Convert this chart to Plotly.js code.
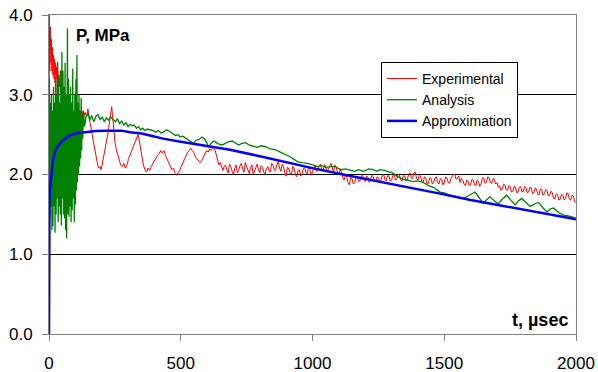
<!DOCTYPE html>
<html>
<head>
<meta charset="utf-8">
<script src="https://cdn.plot.ly/plotly-3.0.1.min.js"></script>
<style>html,body{margin:0;padding:0;background:#fff}#chart{width:598px;height:372px}</style>
</head>
<body>
<div id="chart"></div>
<script>
// Experimental (red)
var expT = [0,1,3,5,7,9,11,13,15,17,19,21,23,25,27,29,31,33,35,37,40,43,46,49,52,55,58,61,64,67,70,73,76,79,82,85,87,90,93,96,100,104,108,112,116,120,125,130,137,143,148,153,158,163,168,173,178,183,188,193,198,203,208,213,218,223,228,233,238,242,246,250,255,260,266,272,278,284,290,296,302,308,314,320,326,332,338,343,348,353,358,364,370,376,382,388,394,400,406,412,418,424,430,436,442,448,454,460,466,472,478,484,490,496,502,508,514,520,526,532,538,544,550,556,562,568,574,580,586,592,598,604,610,616,622,628,634,640,645,
650,655,660,665,670,675,680,685,690,695,700,705,710,715,720,725,730,735,740,745,750,755,760,765,770,775,780,785,790,795,800,805,810,815,820,825,830,835,840,845,850,855,860,865,870,875,880,885,890,895,900,905,910,915,920,925,930,935,940,945,950,955,960,965,970,975,980,985,990,995,
1000,1005,1010,1015,1020,1025,1030,1035,1040,1045,1050,1055,1060,1065,1070,1075,1080,1085,1090,1095,1100,1105,1110,1115,1120,1125,1130,1135,1140,1145,1150,1155,1160,1165,1170,1175,1180,1185,1190,1195,1200,1205,1210,1215,1220,1225,1230,1235,1240,1245,1250,1255,1260,1265,1270,1275,1280,1285,1290,1295,1300,1305,1310,1315,1320,1325,1330,1335,1340,1345,1350,1355,1360,1365,1370,1375,1380,1385,1390,1395,1400,1405,1410,1415,1420,1425,1430,1435,1440,1445,1450,1455,1460,1465,1470,1475,1480,1485,1490,1495,
1500,1505,1510,1515,1520,1525,1530,1535,1540,1545,1550,1555,1560,1565,1570,1575,1580,1585,1590,1595,1600,1605,1610,1615,1620,1625,1630,1635,1640,1645,1650,1655,1660,1665,1670,1675,1680,1685,1690,1695,1700,1705,1710,1715,1720,1725,1730,1735,1740,1745,1750,1755,1760,1765,1770,1775,1780,1785,1790,1795,1800,1805,1810,1815,1820,1825,1830,1835,1840,1845,1850,1855,1860,1865,1870,1875,1880,1885,1890,1895,1900,1905,1910,1915,1920,1925,1930,1935,1940,1945,1950,1955,1960,1965,1970,1975,1980,1985,1990,1995,2000];
var expP = [0,4.0,3.3,3.85,3.4,3.7,3.3,3.6,3.25,3.5,3.2,3.45,3.15,3.4,3.2,3.35,3.0,3.3,2.95,3.25,3.1,3.3,3.0,3.2,2.9,3.05,2.7,2.95,2.5,2.85,2.4,2.7,2.2,2.6,2.0,2.4,1.85,2.3,2.55,2.3,2.6,2.45,2.7,2.6,2.8,2.65,2.8,2.7,2.78,2.72,2.82,2.7,2.6,2.5,2.4,2.3,2.22,2.15,2.08,2.1,2.06,2.15,2.2,2.3,2.4,2.5,2.62,2.72,2.85,2.7,2.55,2.42,2.32,2.25,2.18,2.12,2.1,2.14,2.08,2.12,2.2,2.25,2.3,2.33,2.38,2.44,2.5,2.42,2.3,2.2,2.12,2.06,2.03,2.08,2.05,2.1,2.14,2.18,2.2,2.24,2.26,2.3,2.27,2.3,2.24,2.2,2.15,2.1,2.06,2.08,2.02,1.99,2.02,2.05,2.1,2.15,2.2,2.24,2.28,2.3,2.33,2.3,2.27,2.22,2.2,2.18,2.15,2.18,2.22,2.27,2.3,2.28,2.32,2.3,2.35,2.33,2.25,2.18,2.12,
2.15,2.08,2.05,2.1,2.12,2.06,2.02,2.13,2.1,2.04,2.0,2.08,2.12,2.02,2.05,2.11,2.14,2.07,2.03,2.15,2.1,2.04,2.01,2.09,2.12,2.0,2.04,2.1,2.13,2.06,2.02,2.11,2.09,2.03,2.0,2.07,2.1,2.05,2.03,2.14,2.12,2.05,2.06,2.12,2.16,2.08,2.04,2.13,2.1,2.02,1.98,2.09,2.07,2.01,2.0,2.1,2.08,2.0,1.97,2.05,2.06,1.98,2.0,2.07,2.09,2.02,2.01,2.1,2.07,1.99,
2.03,2.09,2.12,2.04,2.05,2.1,2.13,2.06,2.04,2.12,2.11,2.03,2.06,2.1,2.14,2.07,2.03,2.12,2.1,2.02,2.0,2.06,2.03,1.96,1.93,2.0,1.97,1.9,1.87,1.96,1.95,1.88,1.9,1.97,1.98,1.91,1.92,1.98,1.99,1.93,1.91,1.98,1.97,1.9,1.92,1.99,1.98,1.92,1.91,1.97,1.96,1.9,1.93,1.99,2.0,1.94,1.92,1.99,1.98,1.92,1.93,1.99,2.0,1.93,1.94,2.0,1.99,1.93,1.92,1.99,1.98,1.92,1.94,2.0,2.02,1.96,1.95,2.02,2.03,1.95,1.93,1.99,1.98,1.91,1.9,1.97,1.96,1.88,1.89,1.96,1.95,1.88,1.9,1.96,1.97,1.9,1.88,1.95,1.94,1.87,
1.9,1.97,1.96,1.9,1.89,1.95,1.97,2.0,2.0,1.94,1.95,1.98,1.9,1.95,1.93,1.88,1.86,1.93,1.92,1.86,1.87,1.94,1.93,1.87,1.86,1.93,1.91,1.85,1.88,1.96,1.95,1.89,1.9,1.97,1.96,1.9,1.89,1.95,1.94,1.88,1.9,1.84,1.86,1.8,1.82,1.88,1.87,1.81,1.8,1.86,1.85,1.78,1.79,1.85,1.84,1.77,1.78,1.84,1.85,1.78,1.79,1.85,1.84,1.77,1.78,1.84,1.83,1.76,1.77,1.83,1.82,1.75,1.75,1.82,1.81,1.74,1.76,1.81,1.8,1.73,1.74,1.79,1.77,1.7,1.7,1.76,1.75,1.68,1.69,1.75,1.74,1.68,1.7,1.77,1.76,1.69,1.68,1.74,1.73,1.66,1.65];

// Analysis (green)
var anaT = [0,1.5,3,5,7,9,11,13,15,17,19,21,23,25,27,29,31,33,35,37,39,41,43,45,47,49,51,53,55,57,59,61,63,65,67,70,72,74,76,78,80,82,84,86,88,90,92,94,96,98,100,102,104,106,108,110,112,114,116,118,120,122,124,126,128,131,135,
140,148,155,162,170,178,186,194,202,210,218,226,234,244,252,260,268,276,284,292,300,308,316,324,332,340,348,356,364,372,383,395,405,415,425,434,446,459,470,480,490,497,508,520,530,540,548,558,570,580,590,598,606,615,625,635,645,657,668,680,695,708,720,732,745,760,775,790,805,822,840,860,872,885,900,917,930,943,960,981,1000,1019,1035,1050,1070,1085,1096,1110,1125,1146,1160,1175,1193,1214,1230,1245,1256,1277,1290,
1300,1310,1320,1332,1345,1360,1382,1400,1420,1440,1460,1471,1484,1500,1522,1540,1560,1572,1590,1605,1617,1630,1648,1660,1673,1690,1705,1720,1737,1755,1769,1782,1794,1810,1826,1842,1858,1875,1890,1903,1915,1935,1953,1970,1985,2000];
var anaP = [1.7,3.2,1.45,2.9,1.6,3.0,1.3,2.8,1.35,3.1,1.6,2.9,1.27,3.2,1.5,3.0,1.7,3.41,1.4,3.2,1.6,2.9,1.5,3.3,1.36,3.54,1.7,3.3,1.5,3.1,1.45,3.4,1.3,3.0,1.2,3.83,1.5,3.2,1.47,3.0,1.6,3.1,1.4,2.9,1.55,3.33,1.7,2.8,1.4,3.0,1.62,3.2,1.8,3.5,1.9,2.9,2.0,3.0,2.1,2.8,2.2,2.96,2.3,2.75,2.45,2.8,2.6,
2.72,2.77,2.68,2.74,2.66,2.73,2.75,2.69,2.72,2.66,2.71,2.68,2.72,2.69,2.66,2.7,2.64,2.67,2.62,2.65,2.6,2.63,2.61,2.62,2.58,2.6,2.56,2.58,2.55,2.57,2.56,2.55,2.53,2.55,2.52,2.53,2.56,2.54,2.51,2.49,2.5,2.47,2.48,2.45,2.43,2.41,2.39,2.43,2.44,2.47,2.45,2.4,2.35,2.39,2.42,2.4,2.38,2.37,2.39,2.41,2.42,2.39,2.37,2.39,2.4,2.37,2.35,2.34,2.36,2.35,2.32,2.31,2.29,2.27,2.25,2.22,2.19,2.16,2.15,2.14,2.12,2.1,2.11,2.09,2.1,2.1,2.08,2.06,2.07,2.05,2.04,2.06,2.04,2.07,2.06,2.04,2.06,2.05,2.03,
2.03,2.0,1.98,1.96,1.94,1.93,1.91,1.92,1.9,1.86,1.84,1.81,1.78,1.77,1.74,1.73,1.71,1.7,1.73,1.76,1.78,1.72,1.64,1.68,1.72,1.67,1.63,1.69,1.74,1.67,1.62,1.67,1.7,1.65,1.6,1.63,1.65,1.58,1.53,1.57,1.58,1.52,1.49,1.48,1.47,1.45];

// Approximation (blue)
var apxT = [0,0.5,2,4,7,10,15,23,35,48,65,86,110,137,175,213,276,307,352,383,433,500,560,687,813,877,915,1000,1130,1256,1382,1446,1484,1600,1700,1800,1900,2000];
var apxP = [0,1.5,1.7,1.83,1.95,2.05,2.17,2.29,2.36,2.41,2.46,2.5,2.52,2.53,2.545,2.55,2.55,2.53,2.515,2.49,2.45,2.41,2.38,2.31,2.22,2.17,2.15,2.08,1.99,1.91,1.83,1.78,1.76,1.68,1.62,1.56,1.5,1.44];

var seriesNames = ['Experimental','Analysis','Approximation'];
var xTicks = [0,500,1000,1500,2000];
var yTicks = [0,1,2,3,4];
var yTickText = ['0.0','1.0','2.0','3.0','4.0'];

var FONT = 'Liberation Sans, Arial, sans-serif';
var traces = [
  {x: expT, y: expP, name: seriesNames[0], type: 'scatter', mode: 'lines', line: {color: '#ff0000', width: 1}},
  {x: anaT, y: anaP, name: seriesNames[1], type: 'scatter', mode: 'lines', line: {color: '#008000', width: 1.3}},
  {x: apxT, y: apxP, name: seriesNames[2], type: 'scatter', mode: 'lines', line: {color: '#0000ff', width: 2.5}}
];
var layout = {
  width: 598, height: 372,
  margin: {l: 49, r: 22, t: 15, b: 38},
  paper_bgcolor: '#fff', plot_bgcolor: '#fff',
  font: {family: FONT, color: '#000', size: 17},
  showlegend: true,
  legend: {x: 0.63, y: 0.853, xanchor: 'left', yanchor: 'top', bgcolor: '#fff', bordercolor: '#000', borderwidth: 1, font: {family: FONT, size: 14, color: '#000'}},
  xaxis: {range: [0, 2000], tickvals: xTicks, ticktext: xTicks.map(String), ticks: 'outside', ticklen: 6, tickcolor: '#808080', showgrid: false, zeroline: false, showline: true, linecolor: '#808080', linewidth: 1, mirror: true, ticklabelstandoff: 8, tickfont: {size: 17}},
  yaxis: {range: [0, 4], tickvals: yTicks, ticktext: yTickText, ticks: 'outside', ticklen: 6, tickcolor: '#808080', showgrid: true, gridcolor: '#000', gridwidth: 1, zeroline: false, showline: true, linecolor: '#808080', linewidth: 1, mirror: true, ticklabelstandoff: 6, tickfont: {size: 17}},
  annotations: [
    {xref: 'paper', yref: 'paper', x: 0.047, y: 0.937, xanchor: 'left', yanchor: 'middle', text: '<b>P, MPa</b>', showarrow: false, font: {family: FONT, size: 17, color: '#000'}},
    {xref: 'paper', yref: 'paper', x: 0.989, y: 0.045, xanchor: 'right', yanchor: 'middle', text: '<b>t, µsec</b>', showarrow: false, font: {family: FONT, size: 18, color: '#000'}}
  ]
};
Plotly.newPlot('chart', traces, layout, {displayModeBar: false, staticPlot: true});
</script>
</body>
</html>
